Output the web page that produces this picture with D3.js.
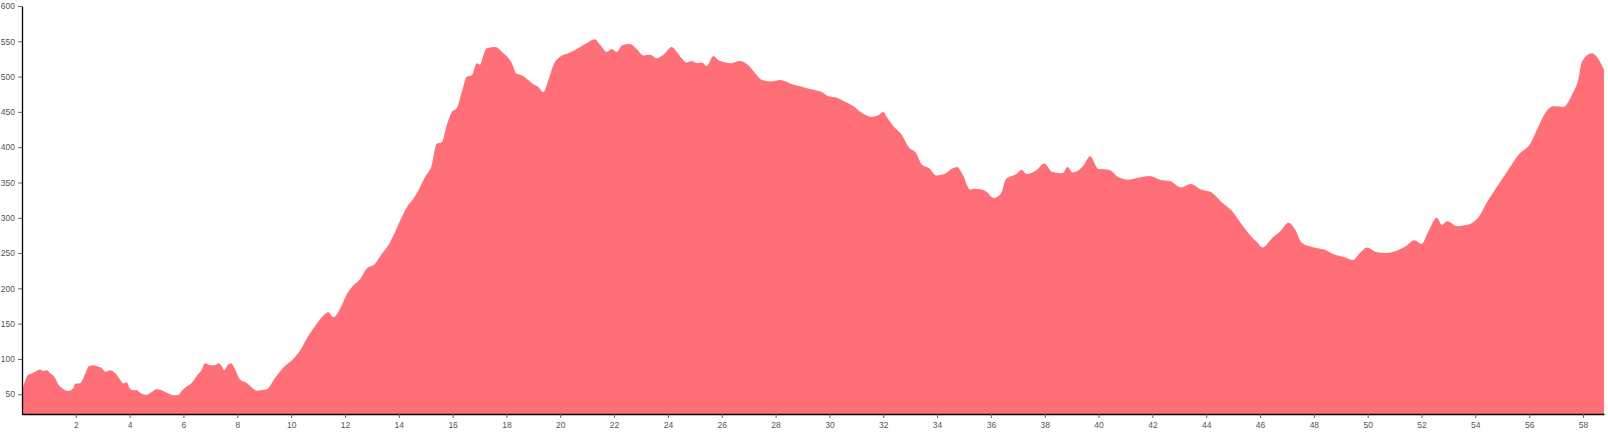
<!DOCTYPE html>
<html>
<head>
<meta charset="utf-8">
<script src="https://cdn.jsdelivr.net/npm/d3@7"></script>
<style>
  html, body { margin: 0; padding: 0; background: #fff; }
  svg { display: block; }
  .axis text { font-family: "Liberation Sans", Arial, sans-serif; font-size: 8.5px; fill: #555; }
  .axis .tick line { stroke: #666; }
  .axis path.domain { stroke: #000; stroke-width: 1.3px; }
</style>
</head>
<body>
<svg id="chart" width="1608" height="435"></svg>
<script>
const distanceKm = [0, 0.07, 0.24, 0.36, 0.54, 0.67, 0.79, 0.92, 1.04, 1.23, 1.35, 1.54, 1.72, 1.91, 1.97, 2.16, 2.28, 2.5, 2.65, 2.84, 2.96, 3.09, 3.27, 3.46, 3.64, 3.77, 3.89, 4.01, 4.14, 4.26, 4.39, 4.63, 4.82, 5.0, 5.19, 5.38, 5.62, 5.81, 5.93, 6.12, 6.3, 6.49, 6.68, 6.8, 6.99, 7.17, 7.3, 7.42, 7.51, 7.64, 7.77, 7.92, 8.1, 8.35, 8.47, 8.72, 9.09, 9.4, 9.71, 10.08, 10.33, 10.64, 10.95, 11.14, 11.38, 11.57, 11.82, 12.07, 12.31, 12.56, 12.81, 13.12, 13.37, 13.61, 13.86, 14.05, 14.3, 14.54, 14.73, 14.98, 15.22, 15.41, 15.6, 15.78, 15.97, 16.15, 16.34, 16.53, 16.71, 16.9, 17.02, 17.14, 17.27, 17.58, 17.89, 18.2, 18.38, 18.57, 18.81, 19.0, 19.19, 19.37, 19.56, 19.74, 19.99, 20.3, 20.61, 20.92, 21.29, 21.48, 21.73, 21.91, 22.1, 22.29, 22.59, 22.84, 23.09, 23.34, 23.58, 23.83, 24.14, 24.33, 24.51, 24.7, 24.88, 25.07, 25.26, 25.44, 25.69, 25.88, 26.35, 26.66, 26.96, 27.23, 27.5, 27.8, 28.18, 28.56, 28.94, 29.32, 29.71, 29.97, 30.28, 30.54, 30.85, 31.23, 31.54, 31.8, 31.99, 32.18, 32.37, 32.68, 32.95, 33.21, 33.44, 33.71, 33.97, 34.28, 34.58, 34.74, 34.97, 35.23, 35.42, 35.8, 36.11, 36.38, 36.56, 36.95, 37.14, 37.33, 37.71, 37.98, 38.28, 38.66, 38.85, 39.04, 39.42, 39.69, 39.99, 40.38, 40.76, 41.14, 41.52, 41.9, 42.28, 42.66, 43.05, 43.43, 43.81, 44.19, 44.57, 44.95, 45.33, 45.64, 45.9, 46.09, 46.47, 46.78, 47.05, 47.31, 47.54, 48.0, 48.38, 48.76, 49.14, 49.45, 49.71, 49.98, 50.29, 50.67, 51.05, 51.43, 51.73, 52.0, 52.27, 52.57, 52.76, 52.95, 53.33, 53.71, 54.1, 54.48, 54.86, 55.24, 55.62, 56.04, 56.34, 56.66, 56.9, 57.27, 57.6, 57.82, 57.96, 58.33, 58.78];

const elevation = [54.7, 64, 78, 79.5, 83, 85, 83, 84, 80, 73, 64, 57, 54.7, 59, 65, 65.5, 73, 90, 91, 89, 87, 82, 84, 80, 71, 65.5, 67, 58, 55.6, 56, 52, 49, 53, 57, 55.6, 52, 48.6, 49, 54.7, 61, 66, 76, 85, 94, 91, 91, 94, 90, 84, 91, 94, 85, 71, 66, 62, 55, 57, 73, 88, 100, 112, 133, 150, 159, 166, 159, 171, 192, 204, 213, 228, 235, 249, 261, 280, 296, 315, 327, 339, 358, 374, 405, 407, 431, 450, 455, 478, 500, 502, 519, 517, 530, 540, 542, 533, 519, 504, 502, 495, 489, 485, 478, 495, 516, 528, 533, 539, 546, 553, 545, 535, 539, 535, 544, 546, 539, 530, 531, 526, 531, 542, 535, 526, 520, 522, 519, 520, 515, 529, 523, 519, 522, 517, 505, 495, 493, 495, 490, 486, 482, 478, 472, 470, 465, 459, 448, 443, 445, 450, 440, 430, 418, 400, 392, 375, 370, 360, 362, 370, 372, 360, 340, 341, 338, 328, 335, 355, 362, 368, 362, 368, 377, 365, 363, 372, 364, 373, 387, 369, 368, 357, 354, 357, 359, 354, 352, 343, 348, 340, 336, 322, 310, 290, 275, 265, 258, 272, 282, 293, 283, 265, 258, 255, 248, 244, 240, 250, 258, 252, 250, 253, 260, 268, 263, 282, 300, 290, 295, 288, 290, 300, 325, 347, 369, 390, 405, 429, 452, 458, 457, 475, 495, 521, 533, 510];

const xTickValues = [2, 4, 6, 8, 10, 12, 14, 16, 18, 20, 22, 24, 26, 28, 30, 32, 34, 36, 38, 40, 42, 44, 46, 48, 50, 52, 54, 56, 58];
const yTickValues = [50, 100, 150, 200, 250, 300, 350, 400, 450, 500, 550, 600];
const yDomain = [22, 600];

const data = distanceKm.map((d, i) => ({ x: d, y: elevation[i] }));

const svg = d3.select("#chart");
const margin = { top: 6, right: 4, bottom: 21, left: 22 };
const W = 1608, H = 435;

const x = d3.scaleLinear()
  .domain([0, d3.max(distanceKm)])
  .range([margin.left, W - margin.right]);
const y = d3.scaleLinear()
  .domain(yDomain)
  .range([H - margin.bottom, margin.top]);

const area = d3.area()
  .x(d => x(d.x))
  .y0(y(yDomain[0]))
  .y1(d => y(d.y))
  .curve(d3.curveMonotoneX);

svg.append("path")
  .datum(data)
  .attr("fill", "#ff6f77")
  .attr("d", area);

svg.append("g")
  .attr("class", "axis")
  .attr("transform", `translate(0,${H - margin.bottom})`)
  .call(d3.axisBottom(x).tickValues(xTickValues).tickFormat(d3.format("d"))
    .tickSizeInner(4).tickSizeOuter(0).tickPadding(4));

svg.append("g")
  .attr("class", "axis")
  .attr("transform", `translate(${margin.left},0)`)
  .call(d3.axisLeft(y).tickValues(yTickValues).tickFormat(d3.format("d"))
    .tickSizeInner(4).tickSizeOuter(0).tickPadding(3));
</script>
</body>
</html>
